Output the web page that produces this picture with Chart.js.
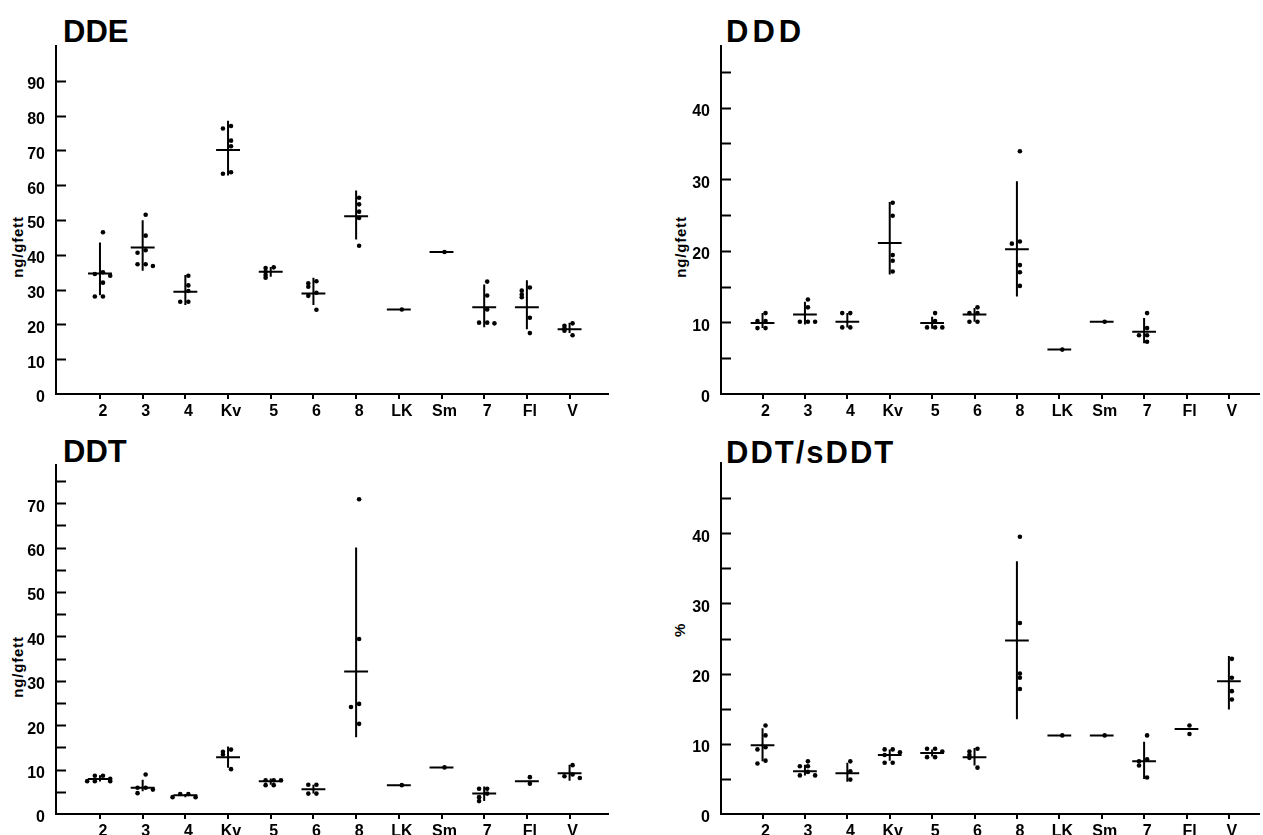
<!DOCTYPE html>
<html>
<head>
<meta charset="utf-8">
<script src="https://cdn.jsdelivr.net/npm/chart.js@4.4.1/dist/chart.umd.min.js"></script>
<style>
  body { margin: 0; background: #fff; width: 1263px; height: 835px; overflow: hidden; position: relative;
         font-family: "Liberation Sans", Arial, sans-serif; color: #000; }
  .panel { position: absolute; }
  .title { position: absolute; font-weight: bold; font-size: 31px; line-height: 31px; white-space: nowrap; }
  .ylab { position: absolute; font-weight: bold; font-size: 15px; letter-spacing: 0.8px; white-space: nowrap;
          transform: translate(-50%, -50%) rotate(-90deg); }
</style>
</head>
<body>
<div class="title" style="left:63px;top:16px;">DDE</div>
<div class="title" style="left:726px;top:16px;letter-spacing:4px;">DDD</div>
<div class="title" style="left:63px;top:436px;">DDT</div>
<div class="title" style="left:726px;top:437px;letter-spacing:2px;">DDT/sDDT</div>
<div class="ylab" style="left:17px;top:247px;">ng/gfett</div>
<div class="ylab" style="left:680px;top:247px;">ng/gfett</div>
<div class="ylab" style="left:17px;top:667px;">ng/gfett</div>
<div class="ylab" style="left:679px;top:630px;">%</div>

<div class="panel" style="left:0;top:0;width:631px;height:420px;"><canvas id="dde"></canvas></div>
<div class="panel" style="left:665px;top:0;width:598px;height:420px;"><canvas id="ddd"></canvas></div>
<div class="panel" style="left:0;top:420px;width:631px;height:415px;"><canvas id="ddt"></canvas></div>
<div class="panel" style="left:665px;top:420px;width:598px;height:415px;"><canvas id="ratio"></canvas></div>

<script>
// --- Sampling stations (x axis) ---
const categories = ['2', '3', '4', 'Kv', '5', '6', '8', 'LK', 'Sm', '7', 'Fl', 'V'];

// --- DDE, ng/g fett ---
const ddeValues = [
    [46.5, 35, 34.5, 34, 32, 28, 28],
    [51.5, 45.5, 41.3, 40.6, 37.3, 37.3, 36.8],
    [34, 31.2, 29.6, 26.5, 26.5],
    [77, 76.3, 72.8, 71.2, 63.7, 63.3],
    [36.4, 36.2, 35.1, 34.2, 33.4],
    [32.4, 31.8, 30.8, 29.1, 28.2, 24.2],
    [56.4, 54.5, 52.4, 50.6, 42.6],
    [24.3],
    [40.8],
    [32.3, 28.3, 24.3, 20.5, 20.5, 20.3],
    [30.6, 29.7, 28.6, 27.8, 21.9, 17.5],
    [20.3, 19.6, 18.9, 18.2, 16.9]
];
const ddeMean = [34.6, 42.1, 29.4, 70.1, 35.1, 28.9, 51.1, 24.3, 40.8, 24.9, 24.9, 18.6];
const ddeLow  = [28.4, 35.4, 25.6, 62.8, 33.7, 25.6, 44.4, null, null, 19.2, 18.6, 17.5];
const ddeHigh = [43.5, 49.9, 34.2, 78.5, 36.5, 33.4, 58.5, null, null, 31.5, 32.7, 20.5];

// --- DDD, ng/g fett ---
const dddValues = [
    [11.3, 10.2, 10.2, 9.2, 9.2],
    [13.2, 12.1, 10.1, 10.1, 10.1],
    [11.3, 11.3, 9.3, 9.3],
    [26.7, 24.9, 19.4, 18.6, 17.1],
    [11.3, 10.2, 9.3, 9.3, 9.3],
    [12.1, 11.3, 11.3, 10.1, 10.1],
    [33.9, 21.3, 21.0, 18.0, 17.0, 15.1],
    [6.2],
    [10.1],
    [11.3, 9.2, 8.2, 8.2, 7.3],
    [],
    []
];
const dddMean = [9.9, 11.1, 10.1, 21.1, 9.9, 11.1, 20.2, 6.2, 10.1, 8.7, null, null];
const dddLow  = [9.2, 9.7, 9.3, 16.7, 9.1, 10.1, 13.6, null, null, 7.1, null, null];
const dddHigh = [11.3, 12.9, 11.3, 26.8, 10.8, 12.0, 29.7, null, null, 10.6, null, null];

// --- DDT, ng/g fett ---
const ddtValues = [
    [8.6, 8.6, 7.9, 7.4, 7.4, 7.4],
    [8.9, 5.9, 5.9, 5.5, 4.7],
    [4.5, 4.5, 3.8, 3.8],
    [14.5, 14.0, 13.4, 10.1],
    [7.6, 7.6, 7.6, 6.5, 6.5],
    [6.6, 6.6, 4.6, 4.6],
    [70.9, 39.4, 24.8, 24.1, 20.3],
    [6.5],
    [10.5],
    [5.7, 5.7, 4.6, 3.8, 2.9],
    [8.3, 6.8],
    [11.0, 8.9, 8.5, 8.1]
];
const ddtMean = [7.9, 5.9, 4.2, 12.8, 7.4, 5.6, 32.1, 6.5, 10.5, 4.6, 7.4, 9.2];
const ddtLow  = [7.3, 5.1, 3.8, 10.4, 6.6, 4.6, 17.3, null, null, 2.9, null, 7.5];
const ddtHigh = [8.7, 7.7, 4.5, 15.2, 8.0, 6.6, 60.0, null, null, 6.2, null, 11.1];

// --- DDT/sDDT, % ---
const ratioValues = [
    [12.6, 11.2, 9.5, 9.2, 7.6, 7.2],
    [7.5, 6.8, 6.8, 6.0, 5.5, 5.5],
    [7.5, 6.1, 4.9],
    [9.2, 9.2, 8.8, 8.4, 7.3, 7.3],
    [9.3, 9.3, 8.9, 8.1, 8.1],
    [9.3, 8.9, 8.4, 8.0, 6.6],
    [39.5, 27.2, 20.0, 19.4, 17.8],
    [11.2],
    [11.2],
    [11.2, 7.8, 7.5, 6.9, 5.2],
    [12.6, 11.4],
    [22.1, 19.4, 17.5, 16.3]
];
const ratioMean = [9.8, 6.1, 5.8, 8.4, 8.7, 8.1, 24.7, 11.2, 11.2, 7.5, 12.1, 18.9];
const ratioLow  = [7.5, 5.5, 4.6, 7.6, 8.2, 6.9, 13.5, null, null, 5.0, null, 14.9];
const ratioHigh = [12.2, 7.0, 7.3, 9.2, 9.2, 9.4, 36.0, null, null, 10.3, null, 22.5];

const FONT = "'Liberation Sans', Arial, sans-serif";

// Spread tied values sideways so the dots stay visible
function dotPoints(values, yMax) {
    const offsets = [0.07, -0.12, 0.24, -0.3, 0.4];
    const pts = [];
    values.forEach((vals, i) => {
        const placed = [];
        vals.forEach(v => {
            const n = placed.filter(p => Math.abs(p - v) < yMax * 0.012).length;
            placed.push(v);
            pts.push({ x: i + offsets[n % offsets.length], y: v });
        });
    });
    return pts;
}

function meanSegments(means) {
    const pts = [];
    means.forEach((m, i) => {
        if (m === null) return;
        pts.push({ x: i - 0.28, y: m }, { x: i + 0.28, y: m }, { x: i, y: null });
    });
    return pts;
}

function rangeSegments(lows, highs) {
    const pts = [];
    lows.forEach((lo, i) => {
        if (lo === null || highs[i] === null) return;
        pts.push({ x: i, y: lo }, { x: i, y: highs[i] }, { x: i, y: null });
    });
    return pts;
}

// y-axis tick marks point into the plot area
const inwardTicks = {
    id: 'inwardTicks',
    afterDraw(chart) {
        const y = chart.scales.y;
        const ctx = chart.ctx;
        const left = chart.chartArea.left;
        ctx.save();
        ctx.strokeStyle = '#000';
        ctx.lineWidth = 2;
        y.ticks.forEach(t => {
            if (t.value <= 0 || t.value >= y.max) return;
            const py = Math.round(y.getPixelForValue(t.value)) + 0.5;
            ctx.beginPath();
            ctx.moveTo(left, py);
            ctx.lineTo(left + 10, py);
            ctx.stroke();
        });
        ctx.restore();
    }
};

function makePanel(id, values, means, lows, highs, cfg) {
    new Chart(document.getElementById(id), {
        type: 'scatter',
        data: {
            datasets: [
                {
                    type: 'line',
                    data: rangeSegments(lows, highs),
                    borderColor: '#000',
                    borderWidth: 2,
                    pointRadius: 0,
                    spanGaps: false
                },
                {
                    type: 'line',
                    data: meanSegments(means),
                    borderColor: '#000',
                    borderWidth: 2,
                    pointRadius: 0,
                    spanGaps: false
                },
                {
                    data: dotPoints(values, cfg.yMax),
                    backgroundColor: '#000',
                    borderColor: '#000',
                    pointRadius: 2.3,
                    borderWidth: 0
                }
            ]
        },
        options: {
            responsive: true,
            maintainAspectRatio: false,
            animation: false,
            layout: { padding: { top: cfg.top, right: cfg.right, bottom: 0, left: 0 } },
            plugins: { legend: { display: false }, tooltip: { enabled: false } },
            scales: {
                x: {
                    type: 'linear',
                    min: cfg.xMin,
                    max: cfg.xMax,
                    afterBuildTicks: scale => { scale.ticks = categories.map((c, i) => ({ value: i })); },
                    afterFit: scale => { scale.height = cfg.xHeight; },
                    ticks: {
                        autoSkip: false,
                        maxRotation: 0,
                        padding: 3,
                        labelOffset: 3,
                        color: '#000',
                        font: { family: FONT, size: 16, weight: 'bold' },
                        callback: v => categories[Math.round(v)]
                    },
                    grid: { drawOnChartArea: false, drawTicks: true, tickLength: 5, color: '#000', lineWidth: 2 },
                    border: { display: true, color: '#000', width: 2 }
                },
                y: {
                    min: 0,
                    max: cfg.yMax,
                    afterFit: scale => { scale.width = 56; },
                    ticks: {
                        stepSize: 5,
                        includeBounds: false,
                        padding: 3,
                        labelOffset: 4,
                        color: '#000',
                        font: { family: FONT, size: 16, weight: 'bold' },
                        callback: v => (v % 10 === 0 && v < cfg.yMax - 5) ? v : ''
                    },
                    grid: { display: false },
                    border: { display: true, color: '#000', width: 2 }
                }
            }
        },
        plugins: [inwardTicks]
    });
}

makePanel('dde', ddeValues, ddeMean, ddeLow, ddeHigh,
    { yMax: 100, xMin: -1.03, xMax: 11.9, top: 46, right: 23, xHeight: 26 });
makePanel('ddd', dddValues, dddMean, dddLow, dddHigh,
    { yMax: 48.6, xMin: -0.98, xMax: 11.71, top: 46, right: 0, xHeight: 26 });
makePanel('ddt', ddtValues, ddtMean, ddtLow, ddtHigh,
    { yMax: 78.6, xMin: -1.03, xMax: 11.9, top: 45, right: 23, xHeight: 21 });
makePanel('ratio', ratioValues, ratioMean, ratioLow, ratioHigh,
    { yMax: 50, xMin: -0.98, xMax: 11.71, top: 43, right: 0, xHeight: 21 });
</script>
</body>
</html>
